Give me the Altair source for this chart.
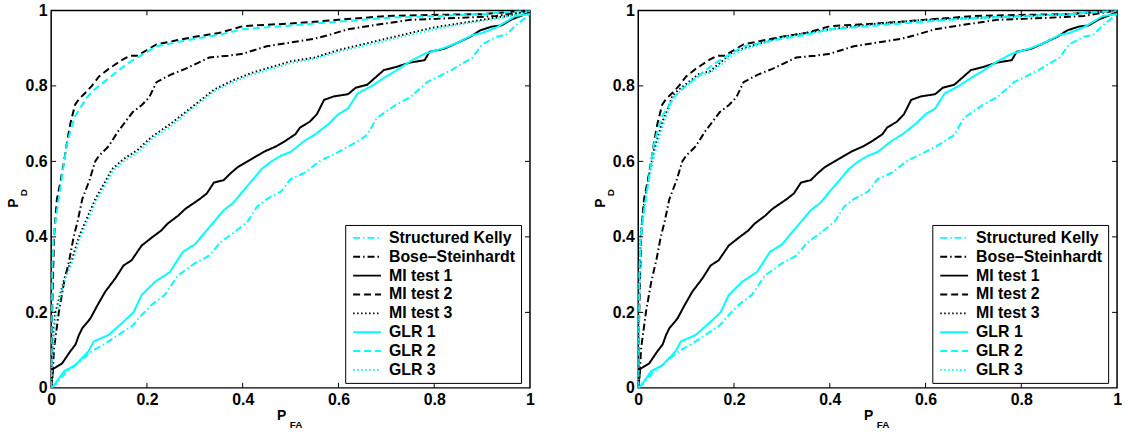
import altair as alt
import pandas as pd

FONT = "Liberation Sans"

# ---------------- data ----------------
series_names = ["Structured Kelly", "Bose–Steinhardt", "MI test 1", "MI test 2",
                "MI test 3", "GLR 1", "GLR 2", "GLR 3"]
series_colors = ["#00FFFF", "#000000", "#000000", "#000000",
                 "#000000", "#00FFFF", "#00FFFF", "#00FFFF"]
series_dashes = [[7, 3, 1.5, 3], [7, 3, 1.5, 3], [1, 0], [7, 4],
                 [1.5, 2.5], [1, 0], [7, 4], [1.5, 2.5]]

tick_values = [0, 0.2, 0.4, 0.6, 0.8, 1]

kelly_x = [0, 0.01, 0.03, 0.05, 0.085, 0.11, 0.14, 0.17, 0.189, 0.21, 0.237, 0.265, 0.275, 0.3,
           0.33, 0.354, 0.38, 0.41, 0.43, 0.45, 0.48, 0.5, 0.53, 0.56, 0.6, 0.636, 0.66, 0.68,
           0.72, 0.75, 0.785, 0.81, 0.84, 0.86, 0.88, 0.9, 0.93, 0.95, 0.97, 1]
kelly_y = [0, 0.01, 0.04, 0.06, 0.097, 0.115, 0.14, 0.165, 0.193, 0.22, 0.246, 0.298, 0.307, 0.33,
           0.35, 0.386, 0.41, 0.44, 0.48, 0.5, 0.52, 0.553, 0.57, 0.6, 0.625, 0.65, 0.67, 0.715,
           0.75, 0.77, 0.81, 0.825, 0.845, 0.86, 0.875, 0.91, 0.93, 0.935, 0.96, 0.99]

bose_x = [0, 0.002, 0.004, 0.006, 0.016, 0.027, 0.038, 0.047, 0.055, 0.065, 0.08, 0.092, 0.1,
          0.12, 0.14, 0.17, 0.19, 0.205, 0.22, 0.25, 0.28, 0.33, 0.37, 0.4, 0.45, 0.5, 0.55,
          0.58, 0.62, 0.67, 0.75, 0.85, 0.93, 1]
bose_y = [0, 0.018, 0.06, 0.105, 0.2, 0.28, 0.34, 0.4, 0.44, 0.5, 0.55, 0.6, 0.615,
          0.64, 0.68, 0.73, 0.75, 0.77, 0.81, 0.83, 0.845, 0.875, 0.88, 0.885, 0.905, 0.915, 0.925,
          0.935, 0.95, 0.96, 0.975, 0.98, 0.985, 1]

mi1_x = [0, 0.004, 0.023, 0.04, 0.051, 0.058, 0.065, 0.082, 0.095, 0.113, 0.134, 0.151, 0.168,
         0.189, 0.21, 0.23, 0.243, 0.265, 0.28, 0.31, 0.325, 0.34, 0.36, 0.376, 0.39, 0.41, 0.43,
         0.447, 0.47, 0.49, 0.51, 0.52, 0.54, 0.555, 0.57, 0.59, 0.62, 0.636, 0.66, 0.695, 0.72,
         0.75, 0.78, 0.79, 0.82, 0.85, 0.875, 0.896, 0.92, 0.94, 0.96, 0.98, 1]
mi1_y = [0, 0.05, 0.065, 0.097, 0.115, 0.14, 0.158, 0.184, 0.215, 0.255, 0.29, 0.324, 0.338,
         0.377, 0.398, 0.417, 0.435, 0.456, 0.474, 0.5, 0.515, 0.544, 0.55, 0.57, 0.585, 0.6, 0.615,
         0.627, 0.64, 0.655, 0.672, 0.69, 0.705, 0.725, 0.763, 0.772, 0.778, 0.795, 0.803, 0.842,
         0.85, 0.862, 0.868, 0.89, 0.898, 0.915, 0.93, 0.947, 0.957, 0.96, 0.975, 0.985, 0.995]

mi2_x = [0, 0.002, 0.006, 0.012, 0.02, 0.027, 0.033, 0.04, 0.05, 0.058, 0.07, 0.085, 0.1, 0.12,
         0.15, 0.165, 0.18, 0.2, 0.22, 0.26, 0.3, 0.35, 0.4, 0.45, 0.5, 0.55, 0.6, 0.7, 0.8, 0.9,
         0.95, 1]
mi2_y = [0, 0.2, 0.4, 0.5, 0.55, 0.6, 0.65, 0.7, 0.75, 0.765, 0.78, 0.8, 0.825, 0.845,
         0.87, 0.88, 0.88, 0.895, 0.91, 0.92, 0.93, 0.94, 0.958, 0.962, 0.965, 0.97, 0.975, 0.985,
         0.988, 0.99, 0.995, 1]

glr1_x = [0, 0.005, 0.027, 0.051, 0.078, 0.089, 0.12, 0.151, 0.172, 0.189, 0.217, 0.248, 0.275,
          0.3, 0.32, 0.34, 0.36, 0.38, 0.4, 0.42, 0.44, 0.46, 0.48, 0.5, 0.53, 0.55, 0.58, 0.6,
          0.62, 0.64, 0.67, 0.7, 0.72, 0.75, 0.78, 0.82, 0.85, 0.88, 0.9, 0.93, 0.95, 0.97, 1]
glr1_y = [0, 0.005, 0.044, 0.061, 0.097, 0.123, 0.14, 0.175, 0.2, 0.246, 0.281, 0.307, 0.36,
          0.38, 0.41, 0.44, 0.47, 0.49, 0.52, 0.55, 0.58, 0.6, 0.615, 0.625, 0.655, 0.67, 0.7, 0.725,
          0.74, 0.78, 0.8, 0.825, 0.84, 0.865, 0.885, 0.9, 0.915, 0.935, 0.94, 0.955, 0.97, 0.985, 0.99]

glr2_x = [0, 0.002, 0.005, 0.01, 0.018, 0.025, 0.032, 0.04, 0.05, 0.06, 0.075, 0.09, 0.11, 0.13,
          0.16, 0.18, 0.2, 0.22, 0.26, 0.3, 0.35, 0.4, 0.45, 0.5, 0.55, 0.6, 0.7, 0.8, 0.9, 0.95, 1]
glr2_y = [0, 0.3, 0.4, 0.45, 0.52, 0.58, 0.64, 0.68, 0.72, 0.74, 0.77, 0.79, 0.81, 0.83,
          0.86, 0.875, 0.89, 0.905, 0.915, 0.925, 0.935, 0.95, 0.955, 0.96, 0.965, 0.97, 0.98, 0.985,
          0.99, 0.995, 1]

# left panel: test 3 curves
mi3_left_x = [0, 0.002, 0.005, 0.009, 0.02, 0.03, 0.044, 0.058, 0.075, 0.092, 0.11, 0.127, 0.15,
              0.18, 0.21, 0.25, 0.3, 0.34, 0.38, 0.42, 0.46, 0.5, 0.55, 0.6, 0.65, 0.7, 0.75, 0.8,
              0.85, 0.9, 0.95, 1]
mi3_left_y = [0, 0.08, 0.14, 0.2, 0.254, 0.3, 0.342, 0.4, 0.45, 0.5, 0.54, 0.579, 0.605,
              0.63, 0.665, 0.7, 0.75, 0.79, 0.815, 0.835, 0.85, 0.865, 0.875, 0.895, 0.91, 0.925,
              0.94, 0.955, 0.965, 0.975, 0.985, 1]
glr3_left_x = [0, 0.002, 0.006, 0.01, 0.021, 0.031, 0.045, 0.06, 0.077, 0.094, 0.112, 0.13, 0.152,
               0.182, 0.212, 0.252, 0.3, 0.34, 0.38, 0.42, 0.46, 0.5, 0.55, 0.6, 0.65, 0.7, 0.75,
               0.8, 0.85, 0.9, 0.95, 1]
glr3_left_y = [0, 0.07, 0.13, 0.19, 0.25, 0.295, 0.335, 0.395, 0.445, 0.495, 0.535, 0.575, 0.6,
               0.625, 0.66, 0.695, 0.745, 0.785, 0.81, 0.83, 0.845, 0.86, 0.872, 0.89, 0.905, 0.92,
               0.935, 0.95, 0.962, 0.972, 0.982, 1]

# right panel: test 3 curves
mi3_right_x = [0, 0.002, 0.005, 0.01, 0.018, 0.025, 0.033, 0.042, 0.052, 0.062, 0.072, 0.085, 0.1,
               0.115, 0.128, 0.149, 0.17, 0.197, 0.22, 0.253, 0.3, 0.35, 0.4, 0.45, 0.5, 0.6, 0.7,
               0.8, 0.9, 1]
mi3_right_y = [0, 0.25, 0.4, 0.47, 0.53, 0.58, 0.63, 0.67, 0.71, 0.74, 0.776, 0.79, 0.805,
               0.82, 0.833, 0.838, 0.86, 0.89, 0.9, 0.912, 0.93, 0.94, 0.95, 0.958, 0.965, 0.975,
               0.98, 0.985, 0.99, 1]
glr3_right_x = [0, 0.002, 0.005, 0.01, 0.018, 0.026, 0.034, 0.043, 0.053, 0.063, 0.074, 0.087,
                0.1, 0.115, 0.13, 0.15, 0.172, 0.2, 0.222, 0.255, 0.3, 0.35, 0.4, 0.45, 0.5, 0.6,
                0.7, 0.8, 0.9, 1]
glr3_right_y = [0, 0.22, 0.38, 0.45, 0.52, 0.57, 0.62, 0.66, 0.7, 0.735, 0.77, 0.785, 0.8,
                0.815, 0.828, 0.835, 0.855, 0.885, 0.897, 0.91, 0.928, 0.938, 0.948, 0.956, 0.963,
                0.973, 0.978, 0.984, 0.99, 1]

# ---------------- chart ----------------
W, H = 482, 380


def long_table(curves):
    rows = []
    for name, xs, ys in curves:
        for i, (a, b) in enumerate(zip(xs, ys)):
            rows.append({"series": name, "idx": i, "pfa": a, "pd": b})
    return pd.DataFrame(rows)


def panel(mi3x, mi3y, glr3x, glr3y):
    df = long_table([
        (series_names[0], kelly_x, kelly_y),
        (series_names[1], bose_x, bose_y),
        (series_names[2], mi1_x, mi1_y),
        (series_names[3], mi2_x, mi2_y),
        (series_names[4], mi3x, mi3y),
        (series_names[5], glr1_x, glr1_y),
        (series_names[6], glr2_x, glr2_y),
        (series_names[7], glr3x, glr3y),
    ])
    xs = alt.Scale(domain=[0, 1], nice=False, zero=False)
    ys = alt.Scale(domain=[0, 1], nice=False, zero=False)
    xaxis = alt.Axis(values=tick_values, format="~g", title=None, labelFlush=False)
    yaxis = alt.Axis(values=tick_values, format="~g", title=None)

    leg = alt.Legend(
        title=None, orient="none", legendX=296, legendY=216,
        strokeColor="black", fillColor="white", padding=5, rowPadding=3,
        symbolType="M-2,0L2,0", symbolSize=196, symbolStrokeWidth=2,
        symbolOffset=9, labelOffset=14,
        labelFont=FONT, labelFontSize=16, labelFontWeight="bold", labelColor="black",
        labelLimit=300,
    )

    lines = alt.Chart(df).mark_line(strokeWidth=2, clip=True).encode(
        x=alt.X("pfa:Q", scale=xs, axis=xaxis),
        y=alt.Y("pd:Q", scale=ys, axis=yaxis),
        color=alt.Color("series:N", scale=alt.Scale(domain=series_names, range=series_colors),
                        legend=leg),
        strokeDash=alt.StrokeDash("series:N",
                                  scale=alt.Scale(domain=series_names, range=series_dashes),
                                  legend=leg),
        order="idx:Q",
    )

    tk = pd.DataFrame({"pfa": tick_values[1:-1], "pd": tick_values[1:-1]})
    rule = dict(color="black", strokeWidth=1)
    xb = alt.Chart(tk).mark_rule(**rule).encode(
        x=alt.X("pfa:Q", scale=xs, axis=xaxis), y=alt.value(H), y2=alt.value(H - 5))
    xt = alt.Chart(tk).mark_rule(**rule).encode(
        x=alt.X("pfa:Q", scale=xs, axis=xaxis), y=alt.value(0), y2=alt.value(5))
    yl = alt.Chart(tk).mark_rule(**rule).encode(
        y=alt.Y("pd:Q", scale=ys, axis=yaxis), x=alt.value(0), x2=alt.value(5))
    yr = alt.Chart(tk).mark_rule(**rule).encode(
        y=alt.Y("pd:Q", scale=ys, axis=yaxis), x=alt.value(W), x2=alt.value(W - 5))

    one = pd.DataFrame({"k": [0]})
    big = dict(font=FONT, fontWeight="bold", color="black", baseline="alphabetic", align="center")
    p_fa = alt.Chart(one).mark_text(text="P", fontSize=14, **big).encode(
        x=alt.value(232), y=alt.value(412))
    s_fa = alt.Chart(one).mark_text(text="FA", fontSize=10, **big).encode(
        x=alt.value(246.5), y=alt.value(420))
    p_d = alt.Chart(one).mark_text(text="P", fontSize=14, angle=270, **big).encode(
        x=alt.value(-33.5), y=alt.value(194))
    s_d = alt.Chart(one).mark_text(text="D", fontSize=10, angle=270, **big).encode(
        x=alt.value(-24), y=alt.value(183.5))

    return alt.layer(lines, xb, xt, yl, yr, p_fa, s_fa, p_d, s_d).properties(width=W, height=H)


left = panel(mi3_left_x, mi3_left_y, glr3_left_x, glr3_left_y)
right = panel(mi3_right_x, mi3_right_y, glr3_right_x, glr3_right_y)

chart = alt.hconcat(left, right, spacing=57).resolve_scale(
    color="independent", strokeDash="independent"
).properties(
    padding={"left": 5.5, "top": 0, "right": 5, "bottom": 5},
    background="white",
).configure_view(
    stroke="black", strokeWidth=1.5
).configure_axis(
    domain=False, ticks=False, grid=False,
    labelFont=FONT, labelFontSize=16, labelFontWeight="bold", labelColor="black",
    labelPadding=4,
)

chart.save("out.html", embed_options={"renderer": "svg", "actions": False})
